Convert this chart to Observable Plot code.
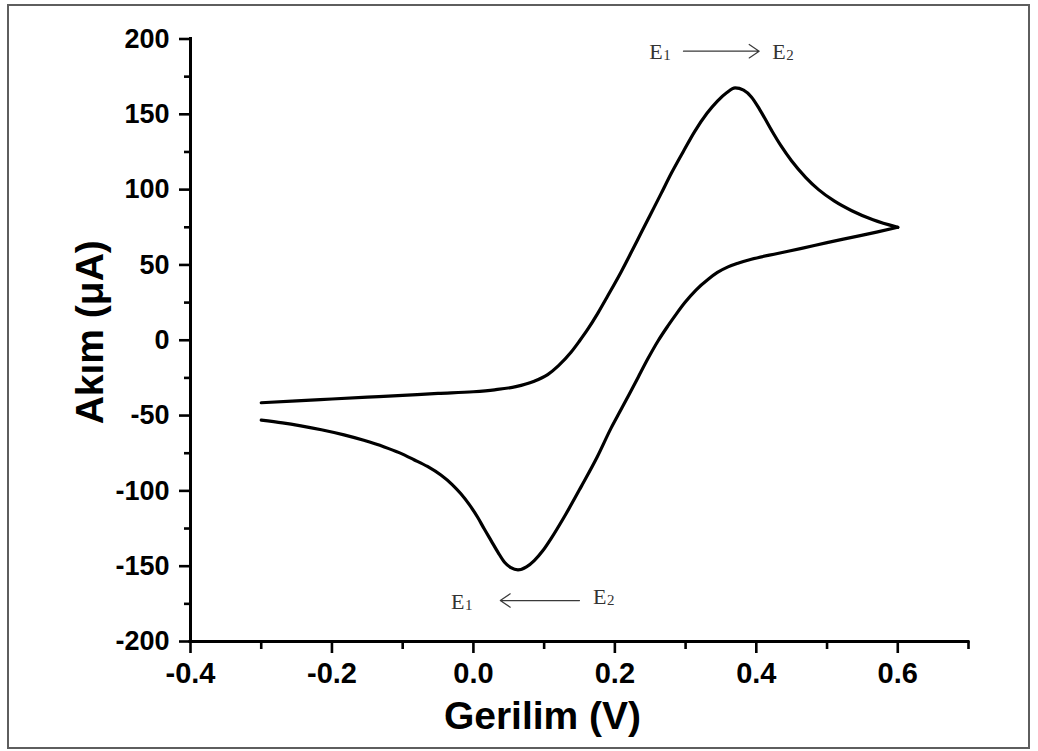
<!DOCTYPE html>
<html>
<head>
<meta charset="utf-8">
<script src="https://cdn.jsdelivr.net/npm/d3@7"></script>
<script src="https://cdn.jsdelivr.net/npm/@observablehq/plot@0.6"></script>
<style>
  html, body { margin: 0; padding: 0; background: #fff; }
  #chart { position: absolute; left: 0; top: 0; }
  #frame { position: absolute; left: 7px; top: 4px; width: 1019px; height: 741px;
           border: 2px solid #5e5e5e; pointer-events: none; z-index: 2; }
</style>
</head>
<body>
<div id="chart"></div>
<div id="frame"></div>
<script>
// Forward (anodic) scan: E1 -> E2
const forwardPotential = [-0.300, -0.250, -0.200, -0.150, -0.100, -0.050, 0.000, 0.030, 0.060, 0.085,
  0.105, 0.120, 0.138, 0.150, 0.162, 0.176, 0.190, 0.209, 0.223, 0.237, 0.250, 0.265, 0.280, 0.297,
  0.313, 0.330, 0.345, 0.358, 0.370, 0.382, 0.393, 0.405, 0.422, 0.435, 0.450, 0.470, 0.488, 0.510,
  0.535, 0.565, 0.600];
const forwardCurrent = [-41.5, -40.2, -39.0, -37.8, -36.6, -35.3, -34.2, -32.9, -30.8, -27.4,
  -22.8, -17.0, -8.0, -0.5, 7.5, 18.0, 29.5, 45.5, 58.2, 71.2, 83.2, 97.0, 111.0, 125.5,
  138.7, 150.5, 158.8, 164.3, 167.5, 166.0, 161.5, 153.0, 139.0, 129.0, 119.0, 108.0, 100.0, 92.5,
  86.0, 80.0, 75.0];
// Reverse (cathodic) scan: E2 -> E1
const reversePotential = [0.600, 0.570, 0.535, 0.500, 0.464, 0.430, 0.393, 0.375, 0.360, 0.345,
  0.332, 0.315, 0.299, 0.287, 0.275, 0.261, 0.247, 0.233, 0.219, 0.207, 0.195, 0.175, 0.152, 0.130,
  0.110, 0.098, 0.086, 0.075, 0.063, 0.053, 0.044, 0.035, 0.025, 0.015, 0.006, -0.006, -0.018,
  -0.030, -0.046, -0.065, -0.084, -0.105, -0.126, -0.155, -0.183, -0.215, -0.244, -0.270, -0.300];
const reverseCurrent = [75.0, 71.8, 68.3, 64.8, 61.0, 57.6, 53.8, 51.3, 48.7, 45.0,
  40.5, 33.5, 25.0, 17.5, 9.5, -0.5, -12.0, -24.5, -37.0, -47.5, -58.0, -77.5, -97.5, -116.0,
  -131.5, -139.8, -146.3, -150.5, -152.5, -151.0, -147.4, -141.0, -133.0, -125.0, -117.5, -109.0, -101.8,
  -95.8, -89.5, -83.8, -79.3, -74.6, -70.8, -66.4, -62.8, -59.4, -56.8, -54.8, -53.0];

// Axis ticks
const xMajorTicks = [-0.4, -0.2, 0.0, 0.2, 0.4, 0.6];
const xMinorTicks = [-0.3, -0.1, 0.1, 0.3, 0.5, 0.7];
const yMajorTicks = [-200, -150, -100, -50, 0, 50, 100, 150, 200];
const yMinorTicks = [-175, -125, -75, -25, 25, 75, 125, 175];

// Axis titles
const xTitle = "Gerilim (V)";
const yTitle = "Akım (μA)";

// Scan-direction annotations (data coordinates)
const labelLetter = ["E", "E", "E", "E"];
const labelSub = ["1", "2", "1", "2"];
const labelX = [0.2487, 0.4225, -0.0317, 0.169];
const labelY = [186.9, 186.9, -178.2, -175.1];
const arrowX1 = [0.297, 0.150];
const arrowX2 = [0.404, 0.038];
const arrowY = [191.9, -172.8];

const curve = [
  ...forwardPotential.map((e, i) => ({E: e, I: forwardCurrent[i], scan: "forward"})),
  ...reversePotential.map((e, i) => ({E: e, I: reverseCurrent[i], scan: "reverse"}))
];
const labels = labelLetter.map((t, i) => ({t, sub: labelSub[i], x: labelX[i], y: labelY[i]}));
const arrows = arrowX1.map((x1, i) => ({x1, x2: arrowX2[i], y: arrowY[i]}));

const sans = '"Liberation Sans", Arial, Helvetica, sans-serif';
const serif = '"Liberation Serif", "Times New Roman", serif';

const chart = Plot.plot({
  width: 1038,
  height: 751,
  marginLeft: 190,
  marginRight: 70,
  marginTop: 38.5,
  marginBottom: 110,
  x: {domain: [-0.4, 0.7]},
  y: {domain: [-200, 200]},
  style: {fontFamily: sans, fontWeight: "bold", color: "#000", background: "none", overflow: "visible"},
  marks: [
    Plot.axisY(yMajorTicks, {label: null, tickSize: 11, tickPadding: 10, fontSize: 27, fontWeight: "bold",
      strokeWidth: 2.6, fill: "#000", tickFormat: d => String(d)}),
    Plot.axisY(yMinorTicks, {label: null, tickSize: 6, strokeWidth: 2.6, tickFormat: () => ""}),
    Plot.axisX(xMajorTicks, {label: null, tickSize: 12, tickPadding: 9, fontSize: 29, fontWeight: "bold",
      strokeWidth: 2.6, fill: "#000", tickFormat: d => d.toFixed(1)}),
    Plot.axisX(xMinorTicks, {label: null, tickSize: 8, strokeWidth: 2.6, tickFormat: () => ""}),
    Plot.ruleX([-0.4], {y1: -200, y2: 200, stroke: "#000", strokeWidth: 3, strokeLinecap: "square"}),
    Plot.ruleY([-200], {x1: -0.4, x2: 0.7, stroke: "#000", strokeWidth: 3, strokeLinecap: "square"}),
    Plot.line(curve, {x: "E", y: "I", z: "scan", curve: "monotone-x", stroke: "#000", strokeWidth: 3.2}),
    Plot.arrow(arrows, {x1: "x1", x2: "x2", y1: "y", y2: "y", stroke: "#3a3a3a", strokeWidth: 1.2,
      headLength: 15, headAngle: 68}),
    Plot.text(labels, {x: "x", y: "y", text: "t", textAnchor: "start", lineAnchor: "bottom",
      fontFamily: serif, fontWeight: "normal", fontSize: 22, fill: "#333"}),
    Plot.text(labels, {x: "x", y: "y", text: "sub", textAnchor: "start", lineAnchor: "bottom",
      dx: 14, dy: 1, fontFamily: serif, fontWeight: "normal", fontSize: 15, fill: "#333"}),
    Plot.text([xTitle], {frameAnchor: "bottom", textAnchor: "middle", dx: -37, dy: 87, lineAnchor: "bottom",
      fontSize: 39, fontWeight: "bold", fill: "#000"}),
    Plot.text([yTitle], {frameAnchor: "left", textAnchor: "middle", rotate: -90, dx: -88, dy: -8,
      lineAnchor: "bottom", fontSize: 39, fontWeight: "bold", fill: "#000"})
  ]
});
document.getElementById("chart").appendChild(chart);
</script>
</body>
</html>
